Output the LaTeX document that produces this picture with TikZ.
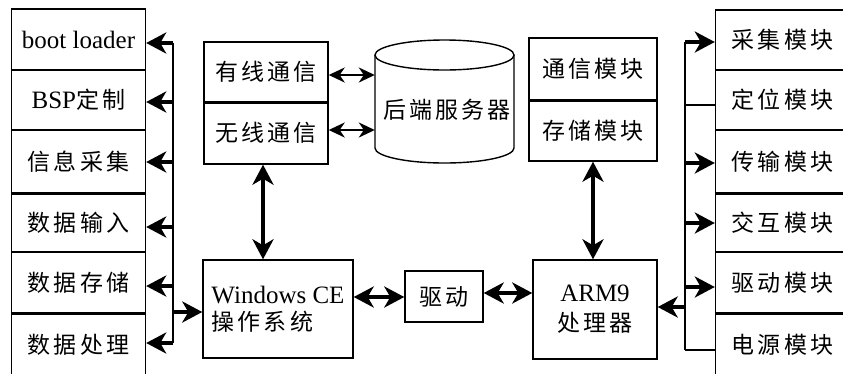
\documentclass[tikz,border=0pt]{standalone}
\usepackage{fontspec}
\setmainfont{Liberation Serif}
\newfontfamily\cjkfam[LetterSpace=14]{Noto Sans CJK SC}
\newcommand\zhtext{\cjkfam\fontsize{23}{28}\selectfont}
\usetikzlibrary{arrows.meta}
\begin{document}
\begin{tikzpicture}[x=1pt,y=-1pt,
  box/.style={draw, line width=1.4pt, inner sep=0pt, font=\fontsize{25}{29}\selectfont},
  col/.style={box, minimum width=134pt},
  bus/.style={line width=2pt},
  divider/.style={line width=2.8pt},
  bighead/.tip={Stealth[length=20pt,width=21pt,inset=6pt]},
  smallhead/.tip={Stealth[length=16pt,width=15pt,inset=5pt]},
  big/.style={line width=4pt, -bighead},
  bigboth/.style={line width=4pt, bighead-bighead},
  thinboth/.style={line width=2pt, smallhead-smallhead}
]
\useasboundingbox (0,0) rectangle (843,373);
\fill[white] (0,0) rectangle (843,373);

% left column
\node[col, minimum height=61pt] (boot) at (78.5,39.5) {boot loader};
\node[col, minimum height=60pt] (bsp) at (78.5,100) {BSP{\zhtext 定制}};
\node[col, minimum height=63pt] (info) at (78.5,161.5) {\zhtext 信息采集};
\node[col, minimum height=59pt] (input) at (78.5,222.5) {\zhtext 数据输入};
\node[col, minimum height=61pt] (store) at (78.5,282.5) {\zhtext 数据存储};
\node[col, minimum height=63pt] (proc) at (78.5,344.5) {\zhtext 数据处理};
\draw[divider] (info.south west) -- (info.south east);
\draw[divider] (store.south west) -- (store.south east);

% right column
\node[col, minimum height=60pt] (cj) at (782.5,40) {\zhtext 采集模块};
\node[col, minimum height=60pt] (dw) at (782.5,100) {\zhtext 定位模块};
\node[col, minimum height=63pt] (cs) at (782.5,161.5) {\zhtext 传输模块};
\node[col, minimum height=59pt] (jh) at (782.5,222.5) {\zhtext 交互模块};
\node[col, minimum height=61pt] (qd) at (782.5,282.5) {\zhtext 驱动模块};
\node[col, minimum height=63pt] (dy) at (782.5,344.5) {\zhtext 电源模块};
\draw[divider] (cs.south west) -- (cs.south east);
\draw[divider] (qd.south west) -- (qd.south east);

% communication boxes
\node[box, minimum width=124pt, minimum height=60pt] (wired) at (266,72) {\zhtext 有线通信};
\node[box, minimum width=124pt, minimum height=62pt] (wireless) at (266,133) {\zhtext 无线通信};
\draw[divider] (wired.south west) -- (wired.south east);

% server cylinder
\node[minimum width=139pt, minimum height=123pt, inner sep=0pt] (server) at (444.5,101.5) {};
\draw[line width=1.4pt] (375,55) -- (375,148) arc[start angle=180, end angle=360, x radius=69.5pt, y radius=15pt] -- (514,55);
\draw[line width=1.4pt] (444.5,55) ellipse[x radius=69.5pt, y radius=15pt];
\node (servertext) at (447,110) {\zhtext 后端服务器};

% modules box
\node[box, minimum width=128pt, minimum height=62pt] (txmk) at (593,69) {\zhtext 通信模块};
\node[box, minimum width=128pt, minimum height=61pt] (ccmk) at (593,130.5) {\zhtext 存储模块};
\draw[divider] (txmk.south west) -- (txmk.south east);

% OS, driver, ARM
\node[box, minimum width=150pt, minimum height=98pt, align=left] (win) at (278,309) {Windows CE\\[-2pt]{\zhtext 操作系统}};
\node[box, minimum width=78pt, minimum height=51pt] (drv) at (444,296.5) {\zhtext 驱动};
\node[box, minimum width=124pt, minimum height=99pt, align=center] (arm) at (595,309.5) {ARM9\\[1pt]{\zhtext 处理器}};

% left bus
\coordinate (lb1) at (173,43);
\coordinate (lb2) at (173,102);
\coordinate (lb3) at (173,162);
\coordinate (lb4) at (173,227);
\coordinate (lb5) at (173,286);
\coordinate (lb6) at (173,343);
\coordinate (lbw) at (173,312);
\draw[bus] (lb1) -- (lb6);
\draw[big] (lb1) -- (lb1 -| boot.east);
\draw[big] (lb2) -- (lb2 -| bsp.east);
\draw[big] (lb3) -- (lb3 -| info.east);
\draw[big] (lb4) -- (lb4 -| input.east);
\draw[big] (lb5) -- (lb5 -| store.east);
\draw[big] (lb6) -- (lb6 -| proc.east);
\draw[big] (lbw) -- (lbw -| win.west);

% right bus
\coordinate (rb1) at (685,42);
\coordinate (rb2) at (685,105);
\coordinate (rb3) at (685,163);
\coordinate (rb4) at (685,223);
\coordinate (rb5) at (685,287);
\coordinate (rb6) at (685,350);
\coordinate (rba) at (685,307);
\draw[bus] (rb1) -- (rb6);
\draw[big] (rb1) -- (rb1 -| cj.west);
\draw[bus] (rb2) -- (rb2 -| dw.west);
\draw[big] (rb3) -- (rb3 -| cs.west);
\draw[big] (rb4) -- (rb4 -| jh.west);
\draw[big] (rb5) -- (rb5 -| qd.west);
\draw[bus] (rb6) -- (rb6 -| dy.west);
\draw[big] (rba) -- (rba -| arm.east);

% server links
\draw[thinboth] (wired.east) ++(0,3) coordinate (w1) -- (w1 -| server.west);
\draw[thinboth] (wireless.east) ++(0,-3) coordinate (w2) -- (w2 -| server.west);

% vertical links
\draw[bigboth] (wireless.south -| 263,0) -- (win.north -| 263,0);
\draw[bigboth] (ccmk.south) -- (arm.north -| ccmk.south);

% horizontal links
\draw[bigboth] (win.east |- 0,297) -- (drv.west |- 0,297);
\draw[bigboth] (drv.east |- 0,293) -- (arm.west |- 0,293);
\end{tikzpicture}
\end{document}
